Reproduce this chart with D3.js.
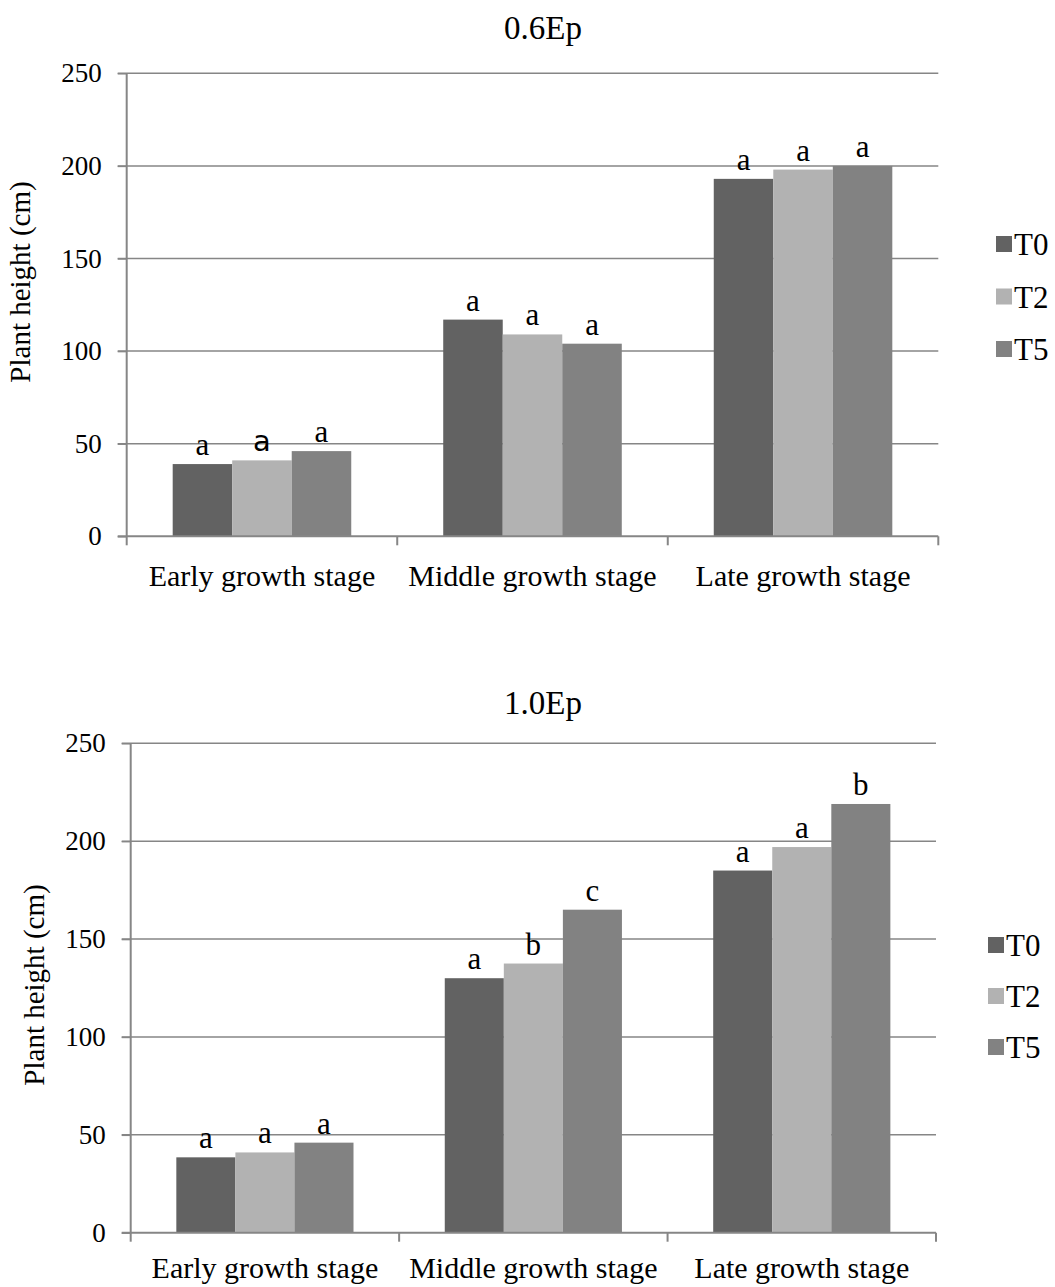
<!DOCTYPE html>
<html>
<head>
<meta charset="utf-8">
<script src="https://cdn.jsdelivr.net/npm/d3@7"></script>
<style>
  html, body { margin: 0; padding: 0; background: #fff; }
  svg { display: block; font-family: "Liberation Serif", "Times New Roman", serif; }
</style>
</head>
<body>
<svg id="fig" width="1055" height="1287"></svg>
<script>
// Plant height (cm) by growth stage and treatment, two irrigation levels
const categories = ["Early growth stage", "Middle growth stage", "Late growth stage"];
const seriesNames = ["T0", "T2", "T5"];
const seriesColors = ["#626262", "#b2b2b2", "#828282"];
const yTicks = [0, 50, 100, 150, 200, 250];

// 0.6Ep — values per treatment across the three stages
const t0_06 = [39, 117, 193];
const t2_06 = [41, 109, 198];
const t5_06 = [46, 104, 200];
// significance letters, per treatment across stages
const sigT0_06 = ["a", "a", "a"];
const sigT2_06 = ["a", "a", "a"];
const sigT5_06 = ["a", "a", "a"];

// 1.0Ep
const t0_10 = [38.5, 130, 185];
const t2_10 = [41, 137.5, 197];
const t5_10 = [46, 165, 219];
const sigT0_10 = ["a", "a", "a"];
const sigT2_10 = ["a", "b", "a"];
const sigT5_10 = ["a", "c", "b"];

const svg = d3.select("#fig");
const gridColor = "#868686";

function drawPanel(cfg) {
  const g = svg.append("g");
  const x0 = d3.scaleBand().domain(categories).range([cfg.left, cfg.right]).padding(0);
  const groupFrac = 0.66;
  const side = x0.bandwidth() * (1 - groupFrac) / 2;
  const x1 = d3.scaleBand().domain(seriesNames).range([side, x0.bandwidth() - side]).padding(0);
  const y = d3.scaleLinear().domain([0, 250]).range([cfg.bottom, cfg.top]);

  // horizontal gridlines (with outward ticks on the left)
  g.append("g").selectAll("line.grid").data(yTicks.filter(d => d > 0)).join("line")
    .attr("x1", cfg.left - 9).attr("x2", cfg.right)
    .attr("y1", d => y(d)).attr("y2", d => y(d))
    .attr("stroke", gridColor).attr("stroke-width", 1.5);

  // bars
  const rows = [];
  cfg.series.forEach((vals, si) => {
    vals.forEach((v, ci) => rows.push({ cat: categories[ci], s: seriesNames[si], v, lab: cfg.sig[si][ci], si, ci }));
  });
  g.append("g").selectAll("rect").data(rows).join("rect")
    .attr("x", d => x0(d.cat) + x1(d.s))
    .attr("width", x1.bandwidth())
    .attr("y", d => y(d.v))
    .attr("height", d => y(0) - y(d.v))
    .attr("fill", d => seriesColors[d.si]);

  // significance letters
  g.append("g").selectAll("text").data(rows).join("text")
    .attr("x", d => x0(d.cat) + x1(d.s) + x1.bandwidth() / 2)
    .attr("y", d => y(d.v) - 9)
    .attr("text-anchor", "middle")
    .attr("font-size", (d) => (cfg.sansLabel && cfg.sansLabel(d)) ? 29 : 31)
    .attr("font-family", d => (cfg.sansLabel && cfg.sansLabel(d)) ? "'DejaVu Sans', sans-serif" : null)
    .text(d => d.lab);

  // y axis
  const yAxis = d3.axisLeft(y).tickValues(yTicks).tickSize(9).tickPadding(16);
  const ya = g.append("g").attr("transform", `translate(${cfg.left},0)`).call(yAxis);
  ya.select(".domain").attr("stroke", gridColor).attr("stroke-width", 2).attr("d", `M0,${cfg.top}V${cfg.bottom}`);
  ya.selectAll(".tick line").attr("stroke", gridColor).attr("stroke-width", 1.5);
  ya.selectAll(".tick text").attr("font-size", 27).attr("fill", "#000")
    .attr("font-family", "'Liberation Serif', serif");

  // x axis with ticks at category boundaries
  g.append("line").attr("x1", cfg.left - 9).attr("x2", cfg.right)
    .attr("y1", cfg.bottom).attr("y2", cfg.bottom)
    .attr("stroke", gridColor).attr("stroke-width", 2);
  const bounds = categories.map(c => x0(c)).concat([cfg.right]);
  g.append("g").selectAll("line").data(bounds).join("line")
    .attr("x1", d => d).attr("x2", d => d)
    .attr("y1", cfg.bottom).attr("y2", cfg.bottom + 9)
    .attr("stroke", gridColor).attr("stroke-width", 2);
  g.append("g").selectAll("text").data(categories).join("text")
    .attr("x", d => x0(d) + x0.bandwidth() / 2)
    .attr("y", cfg.catY)
    .attr("text-anchor", "middle").attr("font-size", 30)
    .text(d => d);

  // title
  g.append("text").attr("x", cfg.titleX).attr("y", cfg.titleY)
    .attr("text-anchor", "middle").attr("font-size", 33).text(cfg.title);

  // y label
  g.append("text")
    .attr("transform", `translate(${cfg.ylabX},${cfg.ylabY}) rotate(-90)`)
    .attr("text-anchor", "middle").attr("font-size", 29)
    .text("Plant height (cm)");

  // legend
  const lg = g.append("g").selectAll("g").data(seriesNames).join("g")
    .attr("transform", (d, i) => `translate(${cfg.legX},${cfg.legY + i * cfg.legStep})`);
  lg.append("rect").attr("x", 0).attr("y", -8).attr("width", 16).attr("height", 16)
    .attr("fill", (d, i) => seriesColors[i]);
  lg.append("text").attr("x", 18).attr("y", 11).attr("font-size", 31).text(d => d);
}

drawPanel({
  left: 126.7, right: 938.3, top: 73.3, bottom: 536.3,
  series: [t0_06, t2_06, t5_06], sig: [sigT0_06, sigT2_06, sigT5_06],
  title: "0.6Ep", titleX: 543, titleY: 39,
  catY: 586, ylabX: 30, ylabY: 282,
  legX: 996, legY: 244, legStep: 52.5,
  sansLabel: d => d.si === 1 && d.ci === 0
});

drawPanel({
  left: 130.7, right: 936, top: 743.3, bottom: 1232.7,
  series: [t0_10, t2_10, t5_10], sig: [sigT0_10, sigT2_10, sigT5_10],
  title: "1.0Ep", titleX: 543, titleY: 714,
  catY: 1278, ylabX: 44, ylabY: 985,
  legX: 988, legY: 945, legStep: 51
});
</script>
</body>
</html>
